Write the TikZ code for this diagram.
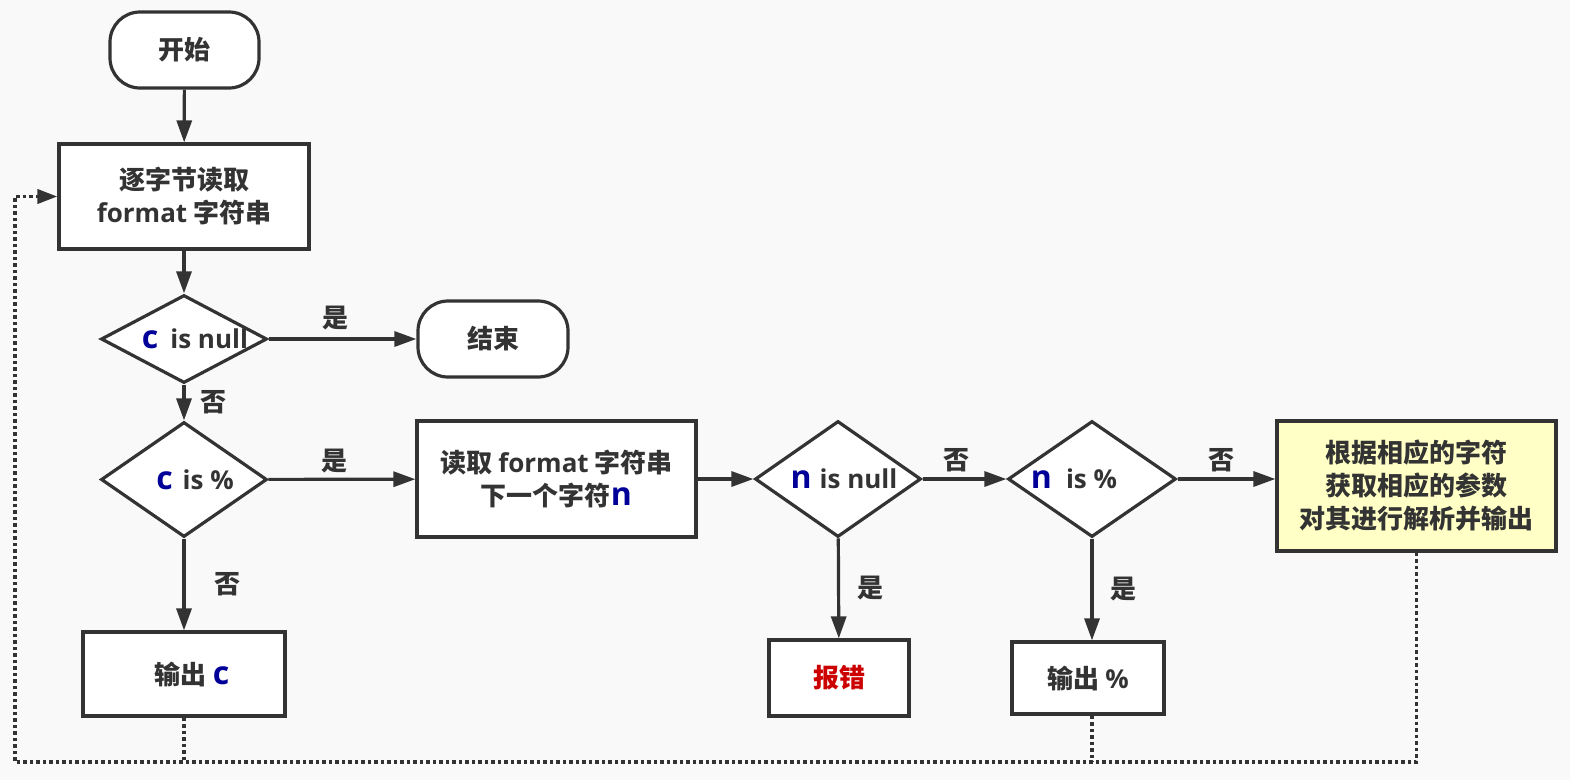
\documentclass[tikz,border=0pt]{standalone}
\usepackage{fontspec}
\setmainfont{Noto Sans CJK SC}
\newfontfamily\latf{Open Sans}
\usetikzlibrary{shapes.geometric,arrows.meta}
\definecolor{ln}{HTML}{333333}
\definecolor{bg}{HTML}{F9F9F9}
\definecolor{yl}{HTML}{FFFFC6}
\definecolor{bl}{HTML}{000099}
\definecolor{rd}{HTML}{CC0000}
\newcommand{\vb}[1]{{\latf\fontsize{32}{32}\selectfont\bfseries\textcolor{bl}{#1}}}
\newcommand{\lt}[1]{{\latf\bfseries #1}}
\begin{document}
\begin{tikzpicture}[x=1pt,y=-1pt,
  every node/.style={font=\fontsize{26}{33}\selectfont\bfseries, text=ln},
  box/.style={draw=ln, line width=3.2pt, fill=white, rectangle, inner sep=0pt, align=center},
  term/.style={box, rounded corners=30pt},
  dec/.style={draw=ln, line width=3.2pt, fill=white, diamond, inner sep=0pt},
  flow/.style={draw=ln, line width=3.2pt, -{Triangle[length=22pt,width=15pt]}},
  loop/.style={draw=ln, line width=3.8pt, dash pattern=on 3.5pt off 3pt},
  lab/.style={inner sep=1pt}]
\fill[bg] (0,0) rectangle (1570,780);
\useasboundingbox (0,0) rectangle (1570,780);

\node[term, minimum width=149pt, minimum height=76pt] (start) at (184.5,50) {开始};
\node[box, minimum width=250pt, minimum height=105pt] (read) at (184,196.5) {逐字节读取\\\lt{format} 字符串};
\node[dec, minimum width=166pt, minimum height=88pt, label={[xshift=11pt]center:\vb{c}\hspace{12pt}\lt{is null}}] (d1) at (184,339) {};
\node[term, minimum width=150pt, minimum height=76pt] (end) at (493,339) {结束};
\node[dec, minimum width=166pt, minimum height=115pt, label={[xshift=11pt]center:\vb{c}\hspace{10pt}\lt{is \%}}] (d2) at (184,479.5) {};
\node[box, minimum width=279pt, minimum height=116pt] (readn) at (556.5,479) {读取 \lt{format} 字符串\\下一个字符\vb{n}};
\node[dec, minimum width=166pt, minimum height=116pt, label={[xshift=6pt]center:\vb{n}\hspace{8pt}\lt{is null}}] (d3) at (838,479) {};
\node[dec, minimum width=168pt, minimum height=116pt, label={[xshift=-18pt]center:\vb{n}\hspace{14pt}\lt{is \%}}] (d4) at (1092,479) {};
\node[box, fill=yl, minimum width=279pt, minimum height=130pt] (parse) at (1416.5,486) {根据相应的字符\\获取相应的参数\\对其进行解析并输出};
\node[box, minimum width=202pt, minimum height=84pt] (outc) at (184,674) {\hspace{16pt}输出 \vb{c}};
\node[box, minimum width=140pt, minimum height=76pt, text=rd] (err) at (839,678) {报错};
\node[box, minimum width=152pt, minimum height=72pt] (outp) at (1088,678) {输出 \lt{\%}};

\draw[flow] (start) -- (read);
\draw[flow] (read) -- (d1);
\draw[flow] (d1) -- node[lab, pos=0.45, above=6pt] {是} (end);
\draw[flow] (d1) -- node[lab, right=14pt] {否} (d2);
\draw[flow] (d2) -- node[lab, pos=0.45, above=4pt] {是} (readn);
\draw[flow] (d2) -- node[lab, right=28pt] {否} (outc);
\draw[flow] (readn) -- (d3);
\draw[flow] (d3) -- node[lab, pos=0.4, above=4pt] {否} (d4);
\draw[flow] (d3) -- node[lab, right=16pt] {是} (err);
\draw[flow] (d4.east) -- node[lab, pos=0.45, above=4pt] {否} (d4.east -| parse.west);
\draw[flow] (d4.south) -- node[lab, right=16pt] {是} (d4.south |- outp.north);

\coordinate (lb) at (15,762);
\draw[loop, -{Triangle[length=20pt,width=14pt]}] (parse.south) |- (lb) |- (read.west);
\draw[loop] (outc.south) -- (outc.south |- lb);
\draw[loop] (d4.south |- outp.south) -- (d4.south |- lb);
\end{tikzpicture}
\end{document}
